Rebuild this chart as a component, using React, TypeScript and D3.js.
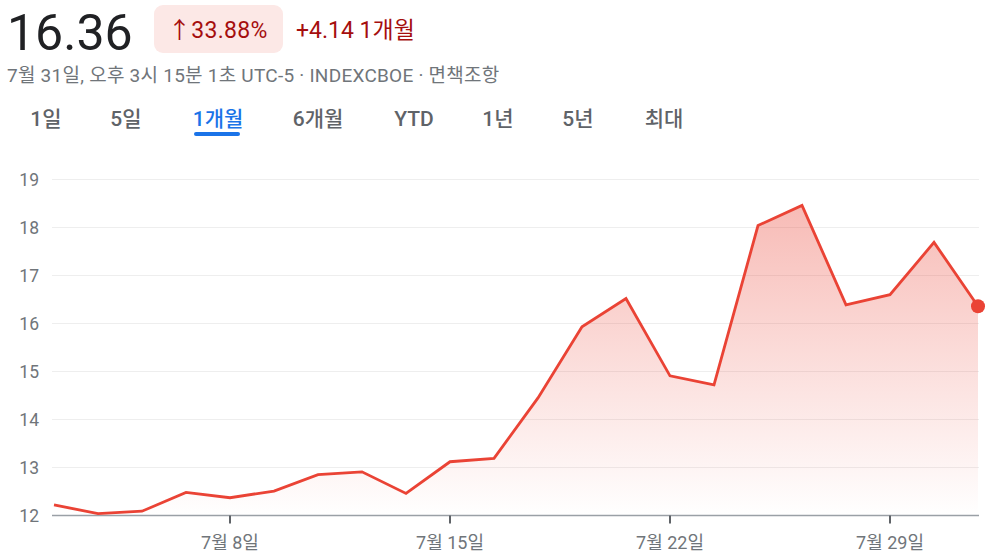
import { useEffect, useRef } from 'react'
import * as d3 from 'd3'

// 7월 거래일 (일자) 과 종가
const days = [1, 2, 3, 5, 8, 9, 10, 11, 12, 15, 16, 17, 18, 19, 22, 23, 24, 25, 26, 29, 30, 31]
const closes = [
  12.22, 12.04, 12.09, 12.48, 12.37, 12.51, 12.85, 12.91, 12.46, 13.12, 13.19,
  14.45, 15.93, 16.52, 14.91, 14.72, 18.04, 18.46, 16.39, 16.6, 17.69, 16.36,
]
const yTicks = [12, 13, 14, 15, 16, 17, 18, 19]
const xTickDays = [8, 15, 22, 29]
const tabs = ['1일', '5일', '1개월', '6개월', 'YTD', '1년', '5년', '최대']
const tabX = [46, 126, 218, 318, 414, 498, 578, 664]

const FONT = "Roboto, 'Noto Sans CJK KR', sans-serif"

export default function App() {
  const svgRef = useRef<SVGSVGElement | null>(null)

  useEffect(() => {
    if (!svgRef.current) return
    const svg = d3.select(svgRef.current)
    svg.selectAll('*').remove()

    // 헤더
    svg.append('text')
      .attr('x', 7).attr('y', 50)
      .attr('font-size', 50).attr('font-family', FONT)
      .attr('fill', '#202124')
      .text('16.36')

    svg.append('rect')
      .attr('x', 154).attr('y', 5).attr('width', 129).attr('height', 48)
      .attr('rx', 9).attr('fill', '#fce8e6')
    svg.append('text')
      .attr('x', 168).attr('y', 38)
      .attr('font-size', 23).attr('font-family', FONT)
      .attr('letter-spacing', 0.3)
      .attr('fill', '#a50e0e')
      .text('↑33.88%')
    svg.append('text')
      .attr('x', 296).attr('y', 38)
      .attr('font-size', 23).attr('font-family', FONT)
      .attr('fill', '#a50e0e')
      .text('+4.14 1개월')

    svg.append('text')
      .attr('x', 7).attr('y', 82)
      .attr('font-size', 19).attr('font-family', FONT)
      .attr('letter-spacing', 0.25)
      .attr('fill', '#70757a')
      .text('7월 31일, 오후 3시 15분 1초 UTC-5 · INDEXCBOE · 면책조항')

    // 기간 탭
    svg.append('g')
      .selectAll('text')
      .data(tabs)
      .join('text')
      .attr('x', (_, i) => tabX[i])
      .attr('y', 126)
      .attr('text-anchor', 'middle')
      .attr('font-size', 21).attr('font-weight', 500).attr('font-family', FONT)
      .attr('fill', (d) => (d === '1개월' ? '#1a73e8' : '#5f6368'))
      .text((d) => d)
    svg.append('rect')
      .attr('x', 194).attr('y', 132).attr('width', 46).attr('height', 4)
      .attr('rx', 2).attr('fill', '#1a73e8')

    // 차트
    const left = 52
    const right = 979
    const x = d3.scaleLinear().domain([0, days.length - 1]).range([54, 978])
    const y = d3.scaleLinear().domain([12, 19]).range([515.5, 179.5])

    svg.append('g')
      .selectAll('line')
      .data(yTicks.filter((t) => t !== 12))
      .join('line')
      .attr('x1', left).attr('x2', right)
      .attr('y1', (d) => y(d)).attr('y2', (d) => y(d))
      .attr('stroke', '#eeeeee').attr('stroke-width', 1)

    svg.append('g')
      .selectAll('text')
      .data(yTicks)
      .join('text')
      .attr('x', 39)
      .attr('y', (d) => y(d) + 6.5)
      .attr('text-anchor', 'end')
      .attr('font-size', 17.5).attr('font-family', FONT)
      .attr('fill', '#70757a')
      .text((d) => d)

    const defs = svg.append('defs')
    const grad = defs.append('linearGradient')
      .attr('id', 'areaFill')
      .attr('gradientUnits', 'userSpaceOnUse')
      .attr('x1', 0).attr('x2', 0)
      .attr('y1', y(18.46)).attr('y2', y(12))
    grad.append('stop').attr('offset', 0).attr('stop-color', '#ea4335').attr('stop-opacity', 0.36)
    grad.append('stop').attr('offset', 1).attr('stop-color', '#ea4335').attr('stop-opacity', 0)

    const area = d3.area<number>()
      .x((_, i) => x(i))
      .y0(y(12))
      .y1((d) => y(d))
    svg.append('path')
      .datum(closes)
      .attr('d', area)
      .attr('fill', 'url(#areaFill)')

    // 기준선 + 눈금
    svg.append('line')
      .attr('x1', left).attr('x2', right)
      .attr('y1', y(12)).attr('y2', y(12))
      .attr('stroke', '#9aa0a6').attr('stroke-width', 1.5)

    const xTicks = xTickDays.map((d) => days.indexOf(d))
    svg.append('g')
      .selectAll('line')
      .data(xTicks)
      .join('line')
      .attr('x1', (d) => x(d)).attr('x2', (d) => x(d))
      .attr('y1', y(12)).attr('y2', y(12) + 8)
      .attr('stroke', '#5f6368').attr('stroke-width', 2)
    svg.append('g')
      .selectAll('text')
      .data(xTicks)
      .join('text')
      .attr('x', (d) => x(d))
      .attr('y', 549)
      .attr('text-anchor', 'middle')
      .attr('font-size', 18).attr('font-family', FONT)
      .attr('fill', '#70757a')
      .text((d) => `7월 ${days[d]}일`)

    const line = d3.line<number>()
      .x((_, i) => x(i))
      .y((d) => y(d))
    svg.append('path')
      .datum(closes)
      .attr('d', line)
      .attr('fill', 'none')
      .attr('stroke', '#ea4335')
      .attr('stroke-width', 2.8)
      .attr('stroke-linejoin', 'miter')

    const last = closes.length - 1
    svg.append('circle')
      .attr('cx', x(last)).attr('cy', y(closes[last]))
      .attr('r', 7)
      .attr('fill', '#ea4335')
  }, [])

  return (
    <svg
      ref={svgRef}
      width={1000}
      height={558}
      style={{ position: 'absolute', left: 0, top: 0, background: '#fff' }}
    />
  )
}
